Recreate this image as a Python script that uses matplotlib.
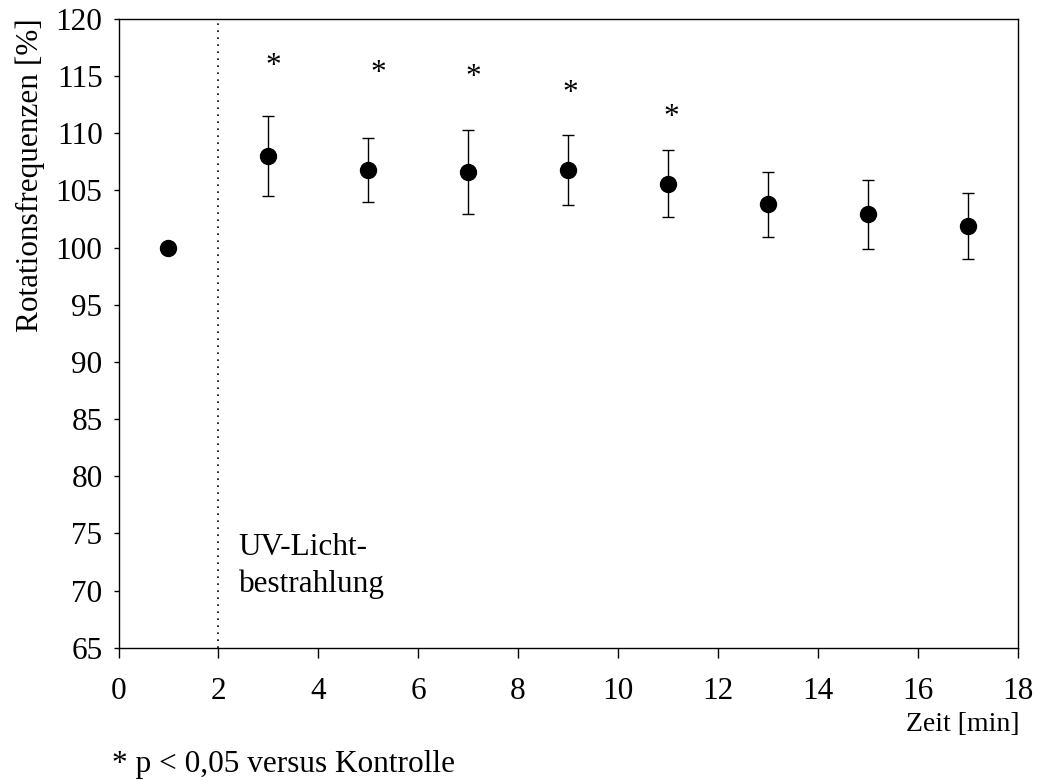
import matplotlib
matplotlib.use("Agg")
import matplotlib.pyplot as plt

# Rotationsfrequenz (Mittelwert +/- SD) nach UV-Bestrahlung
zeit = [1, 3, 5, 7, 9, 11, 13, 15, 17]
mittel = [100.0, 108.0, 106.8, 106.6, 106.8, 105.6, 103.8, 102.9, 101.9]
sd = [0.0, 3.5, 2.8, 3.65, 3.05, 2.95, 2.85, 3.05, 2.9]

# Signifikanz-Sterne (p < 0,05)
stern_x = [3.1, 5.2, 7.1, 9.05, 11.06]
stern_y = [115.2, 114.55, 114.2, 112.8, 110.7]

xticks = list(range(0, 19, 2))
yticks = list(range(65, 121, 5))

FS = 22.5
plt.rcParams['font.family'] = ['Liberation Serif', 'DejaVu Serif']
plt.rcParams['font.size'] = FS

fig = plt.figure(figsize=(10.37, 7.8), dpi=100)
ax = fig.add_axes([118.5 / 1037, 1 - 647.7 / 780, 899 / 1037, 628.7 / 780])

ax.errorbar(zeit[1:], mittel[1:], yerr=sd[1:], fmt='none', ecolor='black',
            elinewidth=1.0, capsize=4.5, capthick=1.0, zorder=2)
ax.plot(zeit, mittel, 'o', color='black', markersize=11.5, zorder=3)

ax.axvline(2, color='black', linewidth=1.2, linestyle=(0, (1, 3.2)), zorder=1)

for sx, sy in zip(stern_x, stern_y):
    ax.text(sx, sy, '*', ha='center', va='baseline', fontsize=FS)

ax.text(2.41, 73.1, 'UV-Licht-', ha='left', va='baseline', fontsize=FS)
ax.text(2.41, 69.85, 'bestrahlung', ha='left', va='baseline', fontsize=FS)

ax.set_xlim(0, 18)
ax.set_ylim(65, 120)
ax.set_xticks(xticks)
ax.set_yticks(yticks)
ax.tick_params(axis='x', direction='out', length=7, width=1, pad=14, labelsize=FS)
ax.tick_params(axis='y', direction='out', length=3.5, width=1, pad=8, labelsize=FS)
for sp in ax.spines.values():
    sp.set_linewidth(1)

fig.text(30 / 1037, 1 - 18 / 780, 'Rotationsfrequenzen [%]', rotation=90,
         ha='center', va='top', fontsize=FS)
fig.text(1019 / 1037, 1 - 731 / 780, 'Zeit [min]', ha='right',
         va='baseline', fontsize=20)
fig.text(112.5 / 1037, 1 - 772 / 780, '* p < 0,05 versus Kontrolle',
         ha='left', va='baseline', fontsize=FS)

fig.savefig('out.png', dpi=100)
